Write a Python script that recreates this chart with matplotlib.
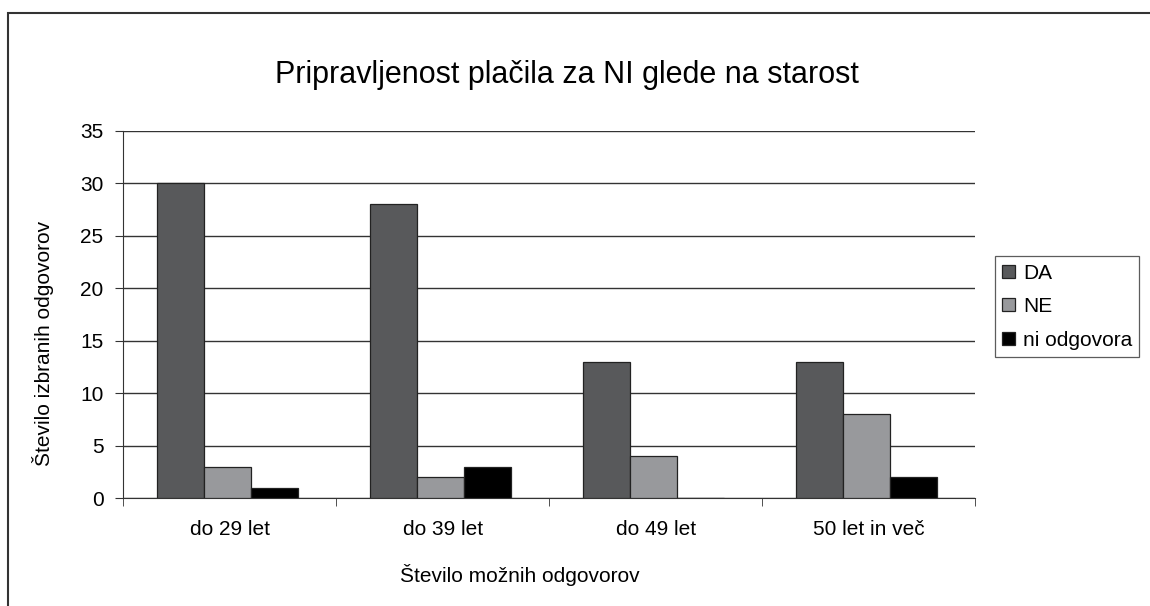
import matplotlib.pyplot as plt
import numpy as np
from matplotlib.patches import Rectangle

plt.rcParams['font.family'] = ['Liberation Sans', 'DejaVu Sans']

categories = ['do 29 let', 'do 39 let', 'do 49 let', '50 let in več']
series = ['DA', 'NE', 'ni odgovora']
da = [30, 28, 13, 13]
ne = [3, 2, 4, 8]
ni = [1, 3, 0, 2]
colors = ['#58595b', '#98999c', '#000000']

fig = plt.figure(figsize=(11.5, 6.06), dpi=100)
ax = fig.add_axes([0.107, 0.178, 0.741, 0.606])

x = np.arange(len(categories))
w = 0.22
for i, (vals, name) in enumerate(zip([da, ne, ni], series)):
    ax.bar(x + (i - 1) * w - 0.01, vals, w, color=colors[i], edgecolor='#222222',
           linewidth=0.9, label=name, zorder=3)

ax.set_xlim(-0.5, len(categories) - 0.5)
ax.set_ylim(0, 35)
ax.set_yticks(range(0, 36, 5))
ax.yaxis.grid(True, color='#333333', linewidth=1)
ax.set_axisbelow(True)
ax.set_xticks(x)
ax.set_xticklabels(categories, fontsize=15)
ax.tick_params(axis='x', length=0, pad=16)
ax.set_xticks(np.arange(-0.5, len(categories)), minor=True)
ax.tick_params(axis='x', which='minor', length=6, direction='out', color='#333333')
ax.tick_params(axis='y', labelsize=15, length=6, color='#333333', pad=8)
for s in ['top', 'right']:
    ax.spines[s].set_visible(False)
ax.spines['left'].set_color('#333333')
ax.spines['bottom'].set_color('#333333')

fig.text(0.493, 0.876, 'Pripravljenost plačila za NI glede na starost',
         ha='center', va='center', fontsize=22)
fig.text(0.037, 0.434, 'Število izbranih odgovorov', rotation=90,
         ha='center', va='center', fontsize=15)
fig.text(0.452, 0.051, 'Število možnih odgovorov', ha='center', va='center', fontsize=15)

leg = fig.legend(loc='upper left', bbox_to_anchor=(0.865, 0.577), fontsize=15,
                 frameon=True, fancybox=False, edgecolor='#333333',
                 handlelength=0.6, handleheight=0.6, handletextpad=0.4,
                 labelspacing=0.7, borderpad=0.35, borderaxespad=0)
leg.get_frame().set_linewidth(0.9)

fig.patches.append(Rectangle((0.007, -0.01), 1.0, 0.989, transform=fig.transFigure,
                             fill=False, edgecolor='#333333', linewidth=1.5))

fig.savefig('out.png', dpi=100)
